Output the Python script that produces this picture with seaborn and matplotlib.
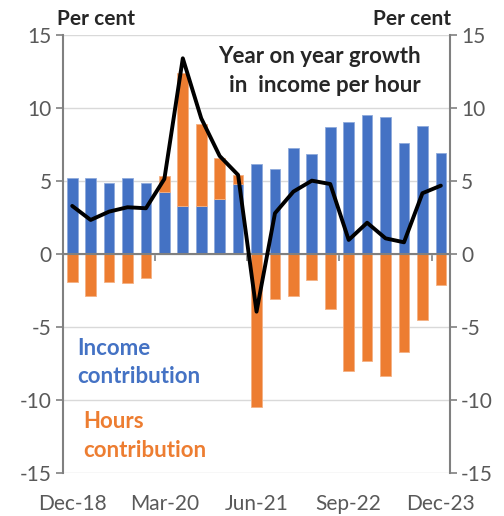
import matplotlib
matplotlib.use("Agg")
import matplotlib.pyplot as plt
import seaborn as sns
import numpy as np
import pandas as pd

# quarterly, Dec-18 .. Dec-23
quarters = ["Dec-18", "Mar-19", "Jun-19", "Sep-19", "Dec-19", "Mar-20", "Jun-20",
            "Sep-20", "Dec-20", "Mar-21", "Jun-21", "Sep-21", "Dec-21", "Mar-22",
            "Jun-22", "Sep-22", "Dec-22", "Mar-23", "Jun-23", "Sep-23", "Dec-23"]
income = [5.18, 5.18, 4.84, 5.23, 4.88, 4.27, 3.31, 3.31, 3.77, 4.77, 6.14,
          5.82, 7.24, 6.83, 8.68, 9.02, 9.52, 9.38, 7.58, 8.79, 6.90]
hours = [-1.90, -2.88, -1.90, -2.00, -1.67, 1.07, 9.06, 5.60, 2.83, 0.64, -10.46,
         -3.08, -2.85, -1.78, -3.80, -7.99, -7.30, -8.34, -6.73, -4.52, -2.12]
growth = [3.29, 2.33, 2.90, 3.20, 3.13, 5.14, 13.40, 9.29, 6.71, 5.41, -3.95,
          2.79, 4.27, 5.02, 4.79, 0.96, 2.14, 1.07, 0.80, 4.16, 4.68]
label_quarters = ["Dec-18", "Mar-20", "Jun-21", "Sep-22", "Dec-23"]

BLUE = "#4472C4"
ORANGE = "#ED7D31"
GREY = "#808080"
TXT = "#595959"

df = pd.DataFrame({"quarter": quarters, "income": income, "hours": hours, "growth": growth})
# positive hours sit on top of income, negative hang from zero
df["hours_base"] = np.where(df["hours"] > 0, df["income"], 0.0)

sns.set_style("white")
plt.rcParams["font.family"] = ["Lato", "DejaVu Sans"]
plt.rcParams["axes.unicode_minus"] = False

fig = plt.figure(figsize=(5.04, 5.16), dpi=100)
ax = fig.add_axes([0.125, 0.0833, 0.768, 0.849])

sns.barplot(data=df, x="quarter", y="income", color=BLUE, saturation=1, width=0.58,
            errorbar=None, edgecolor="#8faadc", linewidth=0.6, ax=ax, zorder=2)
sns.barplot(data=df, x="quarter", y="hours", bottom=df["hours_base"], color=ORANGE,
            saturation=1, width=0.58, errorbar=None, edgecolor="#f4b183", linewidth=0.6,
            ax=ax, zorder=2)
sns.lineplot(x=np.arange(len(df)), y=df["growth"], color="black", linewidth=2.8, ax=ax, zorder=4)

ax.set_xlim(-0.5, len(df) - 0.5)
ax.set_ylim(-15, 15)
ax.set_xlabel("")
ax.set_ylabel("")

# y axes on both sides
ax.set_yticks([-15, -10, -5, 0, 5, 10, 15])
ax.yaxis.grid(True, color="#d9d9d9", linewidth=1)
ax.set_axisbelow(True)
ax.tick_params(axis="y", left=True, right=True, labelleft=True, labelright=True,
               length=5, width=1.2, color=GREY, labelsize=15, labelcolor=TXT, pad=3)
for s in ["left", "right"]:
    ax.spines[s].set_color(GREY)
    ax.spines[s].set_linewidth(1.5)
ax.spines["top"].set_visible(False)

# category axis sits on zero, ticks between groups of 5 quarters
ax.spines["bottom"].set_position(("data", 0))
ax.spines["bottom"].set_color(GREY)
ax.spines["bottom"].set_linewidth(1.5)
ax.spines["bottom"].set_zorder(3)
ax.set_xticks(np.arange(4.5, len(df) - 1, 5))
ax.set_xticklabels([])
ax.tick_params(axis="x", bottom=True, length=5, width=1.2, color=GREY)

# labels at the bottom of the plot
sec = ax.secondary_xaxis("bottom")
sec.set_xticks([quarters.index(q) for q in label_quarters], label_quarters)
sec.tick_params(length=0, labelsize=15, labelcolor=TXT, pad=15)
sec.spines["bottom"].set_visible(False)

fig.text(0.113, 0.952, "Per cent", fontsize=15, fontweight="bold", ha="left", va="baseline")
fig.text(0.895, 0.952, "Per cent", fontsize=15, fontweight="bold", ha="right", va="baseline")

ax.text(0.925, 0.936, "Year on year growth", transform=ax.transAxes, fontsize=16,
        fontweight="bold", ha="right", va="baseline")
ax.text(0.925, 0.870, "in  income per hour", transform=ax.transAxes, fontsize=16,
        fontweight="bold", ha="right", va="baseline")
ax.text(0.036, 0.269, "Income", transform=ax.transAxes, fontsize=16, fontweight="bold",
        color=BLUE, va="baseline")
ax.text(0.036, 0.205, "contribution", transform=ax.transAxes, fontsize=16, fontweight="bold",
        color=BLUE, va="baseline")
ax.text(0.052, 0.103, "Hours", transform=ax.transAxes, fontsize=16, fontweight="bold",
        color=ORANGE, va="baseline")
ax.text(0.052, 0.0365, "contribution", transform=ax.transAxes, fontsize=16, fontweight="bold",
        color=ORANGE, va="baseline")

fig.savefig("out.png", dpi=100)
